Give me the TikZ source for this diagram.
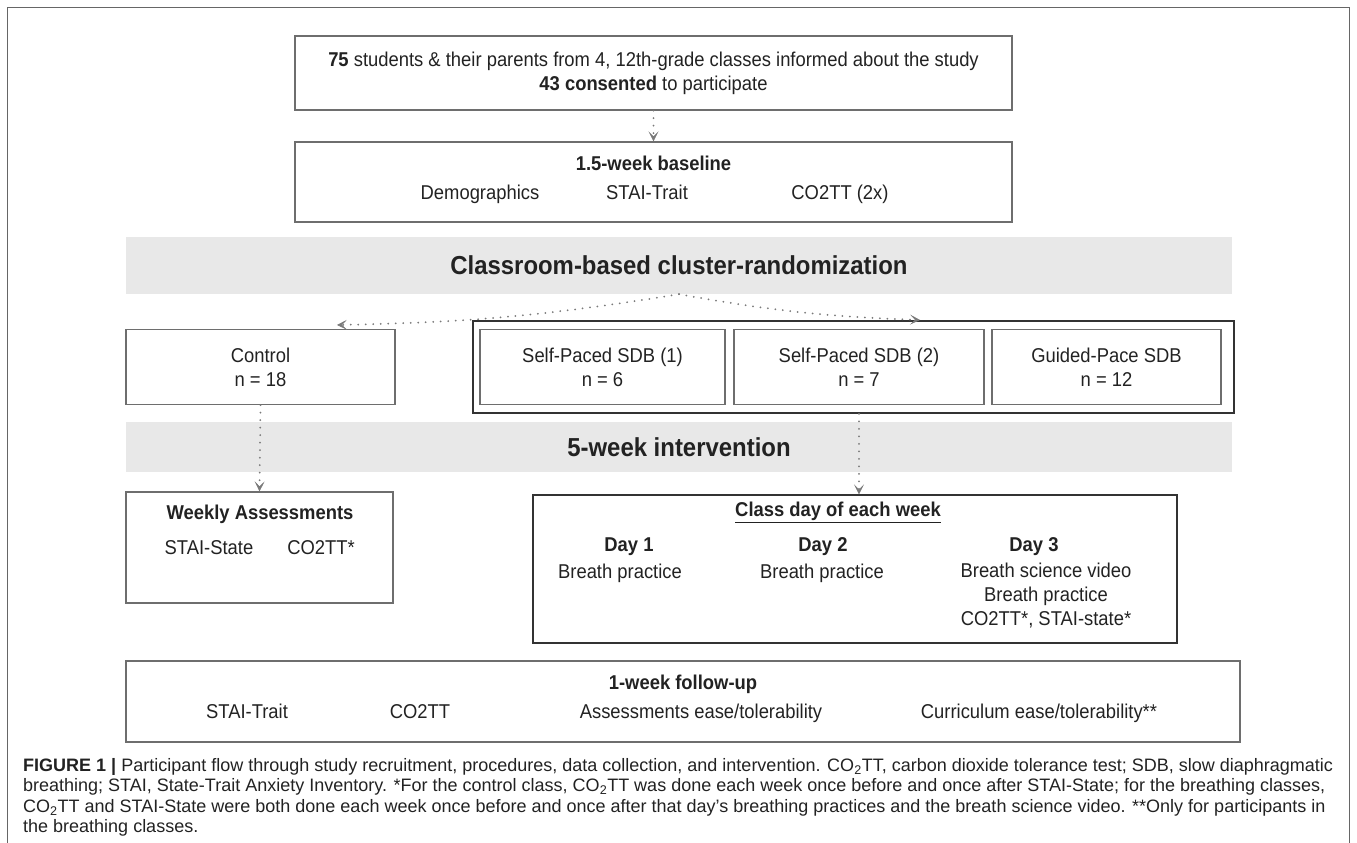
\documentclass[tikz,border=0pt]{standalone}
\usepackage{fontspec}
\setmainfont{Liberation Sans}
\newfontfamily\diagfont[FakeStretch=0.92]{Liberation Sans}
\usepackage{xcolor}
\usetikzlibrary{arrows.meta}

\definecolor{boxgray}{HTML}{6E6E6E}
\definecolor{darkline}{HTML}{333333}
\definecolor{bandgray}{HTML}{E8E8E8}
\definecolor{arrowgray}{HTML}{7A7A7A}
\definecolor{framegray}{HTML}{666666}
\definecolor{inkgray}{HTML}{222222}

\tikzset{
  box/.style={draw=boxgray, line width=1.3pt, inner sep=0pt, align=center,
    text=inkgray, font=\diagfont\fontsize{20}{24}\selectfont},
  grp/.style={draw=darkline, line width=1.6pt, inner sep=0pt},
  band/.style={fill=bandgray, inner sep=0pt, text=inkgray,
    font=\diagfont\fontsize{26}{30}\selectfont\bfseries},
  lbl/.style={inner sep=0pt, anchor=mid, align=center, text=inkgray,
    font=\diagfont\fontsize{20}{24}\selectfont},
  hdr/.style={lbl, font=\diagfont\fontsize{20}{24}\selectfont\bfseries},
  flow/.style={draw=arrowgray, line width=2pt, line cap=round,
    dash pattern=on 0pt off 7.5pt,
    -{Stealth[length=10pt,width=10pt,inset=5pt,line width=0.6pt]}},
}

\begin{document}
\begin{tikzpicture}[x=1pt,y=-1pt]
\useasboundingbox (0,0) rectangle (1357,843);

% outer frame, open at the bottom
\draw[framegray, line width=1pt] (7,843) -- (7,8) -- (1349,8) -- (1349,843);

% recruitment and baseline
\node[box, minimum width=717pt, minimum height=74pt] (recruit) at (653.5,73)
  {\textbf{75} students \& their parents from 4, 12th-grade classes informed about the study\\
   \textbf{43 consented} to participate};
\node[box, minimum width=717pt, minimum height=80pt] (baseline) at (653.5,182) {};
\node[hdr] (baseT) at (653.5,168) {1.5-week baseline};
\node[lbl] (demo) at (480,197) {Demographics};
\node[lbl] (traitA) at (647,197) {STAI-Trait};
\node[lbl] (coA) at (840,197) {CO2TT (2x)};

% randomization band
\node[band, minimum width=1106pt, minimum height=57pt] (rand) at (679,265.5)
  {Classroom-based cluster-randomization};

% arms
\node[box, minimum width=269pt, minimum height=75pt] (control) at (260.5,367)
  {Control\\n = 18};
\node[grp, minimum width=761pt, minimum height=92pt] (group) at (853.5,367) {};
\node[box, minimum width=245pt, minimum height=75pt] (sdbA) at (602.5,367)
  {Self-Paced SDB (1)\\n = 6};
\node[box, minimum width=250pt, minimum height=75pt] (sdbB) at (859,367)
  {Self-Paced SDB (2)\\n = 7};
\node[box, minimum width=229pt, minimum height=75pt] (guided) at (1106.5,367)
  {Guided-Pace SDB\\n = 12};

% intervention band
\node[band, minimum width=1106pt, minimum height=50pt] (interv) at (679,447)
  {5-week intervention};

% weekly assessments (control)
\node[box, minimum width=267pt, minimum height=111pt] (weekly) at (259.5,547.5) {};
\node[hdr] (weeklyT) at (260,517) {Weekly Assessments};
\node[lbl] (stateA) at (209,552) {STAI-State};
\node[lbl] (coB) at (321,552) {CO2TT*};

% class day (breathing classes)
\node[box, draw=darkline, minimum width=644pt, minimum height=148pt] (classday) at (855,569) {};
\node[hdr] (classT) at (838,514) {\underline{Class day of each week}};
\node[hdr] (dayA) at (629,549) {Day 1};
\node[lbl] (dayAtxt) at (620,576) {Breath practice};
\node[hdr] (dayB) at (823,549) {Day 2};
\node[lbl] (dayBtxt) at (822,576) {Breath practice};
\node[hdr] (dayC) at (1034,549) {Day 3};
\node[lbl, anchor=north] (dayCtxt) at (1046,563)
  {Breath science video\\Breath practice\\CO2TT*, STAI-state*};

% follow-up
\node[box, minimum width=1114pt, minimum height=81pt] (follow) at (683,701.5) {};
\node[hdr] (followT) at (683,687) {1-week follow-up};
\node[lbl] (traitB) at (247,716) {STAI-Trait};
\node[lbl] (coC) at (420,716) {CO2TT};
\node[lbl] (ease) at (701,716) {Assessments ease/tolerability};
\node[lbl] (curric) at (1039,716) {Curriculum ease/tolerability**};

% connectors
\coordinate (ctrlIn) at (337,325);
\coordinate (grpIn) at (920,320);
\draw[flow] (recruit.south) -- (baseline.north);
\draw[flow] (rand.south) to[bend left=4] (ctrlIn);
\draw[flow] (rand.south) to[bend right=4] (grpIn);
\draw[flow] (control.south) -- (weekly.north);
\draw[flow] (group.south -| sdbB.south) -- (classday.north -| sdbB.south);

% caption
\node[inner sep=0pt, anchor=north west, align=left, text=inkgray,
  font=\fontsize{18}{20.5}\selectfont] (caption) at (23,758)
  {\textbf{FIGURE 1 |} Participant flow through study recruitment, procedures, data collection, and intervention. CO\textsubscript{2}TT, carbon dioxide tolerance test; SDB, slow diaphragmatic\\
   breathing; STAI, State-Trait Anxiety Inventory. *For the control class, CO\textsubscript{2}TT was done each week once before and once after STAI-State; for the breathing classes,\\
   CO\textsubscript{2}TT and STAI-State were both done each week once before and once after that day’s breathing practices and the breath science video. **Only for participants in\\
   the breathing classes.};
\end{tikzpicture}
\end{document}
